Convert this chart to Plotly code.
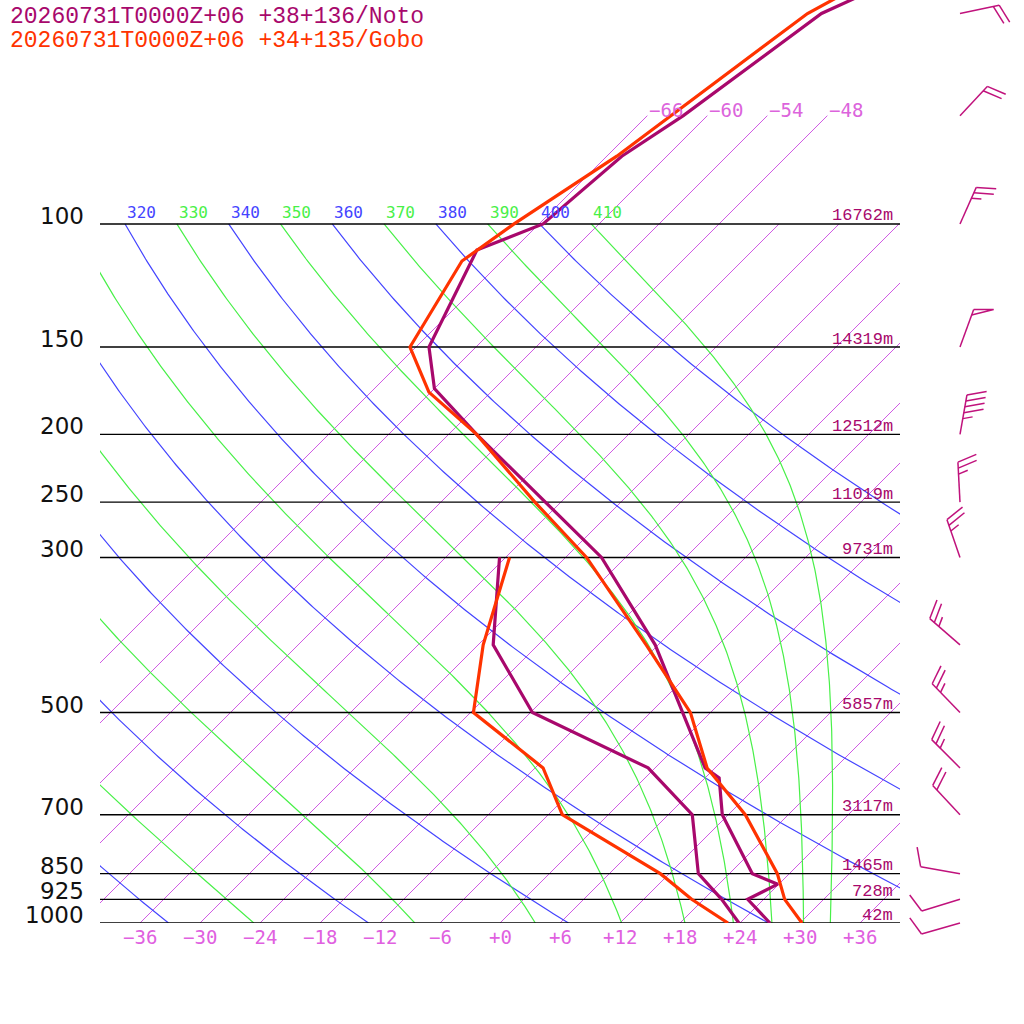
import numpy as np
import plotly.graph_objects as go

# --- sounding data (hPa, deg C) ---
noto_p = [1000, 925, 880, 850, 700, 620, 600, 500, 400, 300, 250, 200, 172, 150, 109, 100, 80, 70, 50, 45]
noto_t = [27.0, 22.4, 23.9, 20.3, 11.4, 7.4, 5.0, -2.8, -12.3, -26.4, -37.6, -51.2, -60.0, -64.7,
          -69.6, -65.6, -64.5, -62.4, -58.8, -55.0]
noto_td_p = [1000, 925, 850, 700, 600, 500, 400, 300]
noto_td = [23.9, 19.8, 14.9, 8.4, -0.7, -17.8, -28.5, -36.6]

gobo_p = [1000, 925, 850, 700, 600, 500, 400, 300, 250, 200, 174, 150, 113, 100, 80, 70, 50, 45]
gobo_t = [30.2, 26.1, 22.8, 13.7, 5.2, -2.0, -13.2, -27.9, -38.6, -51.2, -60.2, -66.6,
          -70.0, -68.5, -65.0, -63.6, -60.2, -57.5]
gobo_td_p = [1000, 925, 850, 700, 600, 500, 400, 300]
gobo_td = [22.8, 16.8, 11.1, -4.6, -11.2, -23.7, -29.5, -35.6]

# winds (Noto)
wind_p = [1000, 925, 850, 700, 600, 500, 400, 300, 250, 200, 150, 100, 70, 50]
wind_dir = [254, 253, 280, 317, 315, 316, 311, 341, 357, 10, 20, 24, 43, 78]
wind_kt = [10, 10, 10, 20, 25, 25, 25, 25, 25, 45, 50, 25, 20, 20]

# standard levels and heights
levels = [100, 150, 200, 250, 300, 500, 700, 850, 925, 1000]
heights = [16762, 14319, 12512, 11019, 9731, 5857, 3117, 1465, 728, 42]

# background lines
isotherms = list(range(-66, 49, 6))
dry_thetas = list(range(240, 401, 20))
moist_thetas = list(range(250, 411, 20))
temp_ticks = list(range(-36, 37, 6))

titles = ["20260731T0000Z+06 +38+136/Noto", "20260731T0000Z+06 +34+135/Gobo"]

NOTO = "#a8086c"
GOBO = "#ff3300"
ISO = "#d05ae4"
DRY = "#4444ff"
MOIST = "#48f048"

K = 303.6          # pixels per e-fold of pressure
SKEW = K / 10.0    # skewed-x units per e-fold
P_TOP = 1000 * np.exp(-923 / K)
P_BOT = 1000 * np.exp(101 / K)
KAPPA = 0.2857


def skew_x(t, p):
    return np.asarray(t, float) + SKEW * np.log(1000.0 / np.asarray(p, float))


def pseudo_adiabat(theta, lnp):
    rd, cp, lv, eps = 287.04, 1005.7, 2.501e6, 0.622

    def f(T, lp):
        p = np.exp(lp)
        es = 6.112 * np.exp(17.67 * (T - 273.15) / (T - 29.65))
        rs = eps * es / (p - es)
        return (rd * T + lv * rs) / (cp + lv ** 2 * rs * eps / (rd * T ** 2))

    T = theta * (np.exp(lnp[0]) / 1000.0) ** KAPPA
    out = [T]
    for i in range(len(lnp) - 1):
        h = lnp[i + 1] - lnp[i]
        k1 = f(T, lnp[i])
        k2 = f(T + h * k1 / 2, lnp[i] + h / 2)
        k3 = f(T + h * k2 / 2, lnp[i] + h / 2)
        k4 = f(T + h * k3, lnp[i] + h)
        T = T + h * (k1 + 2 * k2 + 2 * k3 + k4) / 6
        out.append(T)
    return np.array(out) - 273.15


fig = go.Figure()

# isotherms
for t in isotherms:
    ptop = 70 if t <= -48 else 100
    pp = [1000, ptop]
    fig.add_trace(go.Scatter(x=skew_x([t, t], pp), y=pp, mode="lines",
                             line=dict(color=ISO, width=1), hoverinfo="skip"))

lnp = np.linspace(np.log(100), np.log(1000), 300)
pgrid = np.exp(lnp)

# dry adiabats
for th in dry_thetas:
    tt = th * (pgrid / 1000.0) ** KAPPA - 273.15
    fig.add_trace(go.Scatter(x=skew_x(tt, pgrid), y=pgrid, mode="lines",
                             line=dict(color=DRY, width=1.2), hoverinfo="skip"))

# moist adiabats
for th in moist_thetas:
    tt = pseudo_adiabat(th, lnp)
    fig.add_trace(go.Scatter(x=skew_x(tt, pgrid), y=pgrid, mode="lines",
                             line=dict(color=MOIST, width=1.2), hoverinfo="skip"))

# pressure levels
for p in levels:
    fig.add_trace(go.Scatter(x=[-40, 40], y=[p, p], mode="lines",
                             line=dict(color="black", width=1.4), hoverinfo="skip"))

# profiles
for pp, tt, col in [(noto_td_p, noto_td, NOTO), (gobo_td_p, gobo_td, GOBO),
                    (noto_p, noto_t, NOTO), (gobo_p, gobo_t, GOBO)]:
    fig.add_trace(go.Scatter(x=skew_x(tt, pp), y=pp, mode="lines",
                             line=dict(color=col, width=3.2), hoverinfo="skip"))

# wind barbs on the full-page axes
BASE_X = 46.0


def barb(p0, direction, speed):
    a = np.radians(direction)
    s = np.array([np.sin(a), np.cos(a)])
    r = np.radians(70)
    b = np.array([s[0] * np.cos(r) + s[1] * np.sin(r), -s[0] * np.sin(r) + s[1] * np.cos(r)])
    tip = 40 * s
    segs = [[np.zeros(2), tip]]
    pos = 0.0
    n50, rem = divmod(speed, 50)
    n10, rem = divmod(rem, 10)
    for _ in range(n50):
        a0 = tip - pos * s
        segs.append([a0, a0 + 20 * b, tip - (pos + 6) * s])
        pos += 9
    for _ in range(n10):
        a0 = tip - pos * s
        segs.append([a0, a0 + 20 * b])
        pos += 6
    if rem >= 5:
        a0 = tip - pos * s
        segs.append([a0, a0 + 10 * b])
    xs, ys = [], []
    for seg in segs:
        for v in seg:
            xs.append(BASE_X + v[0] / 10.0)
            ys.append(p0 * np.exp(-v[1] / K))
        xs.append(None)
        ys.append(None)
    return xs, ys


bx, by = [], []
for p, d, v in zip(wind_p, wind_dir, wind_kt):
    xs, ys = barb(p, d, v)
    bx += xs
    by += ys
fig.add_trace(go.Scatter(x=bx, y=by, mode="lines", xaxis="x2", yaxis="y2",
                         line=dict(color="#c0127c", width=1.5), hoverinfo="skip"))

ann = []
mono = "DejaVu Sans Mono"
# pressure labels
for p in levels:
    ann.append(dict(x=-41.4, y=np.log10(p), xref="x2", yref="y2", text=str(p), showarrow=False,
                    xanchor="right", yanchor="middle", yshift=8,
                    font=dict(family="DejaVu Sans", size=23, color="#111111")))
# height labels
for p, h in zip(levels, heights):
    ann.append(dict(x=39.5, y=np.log10(p), xref="x", yref="y", text=f"{h}m", showarrow=False,
                    xanchor="right", yanchor="middle", yshift=8,
                    font=dict(family="Liberation Mono", size=17, color="#a8086c")))
# theta labels at 100 hPa
for th, col in [(t, DRY) for t in dry_thetas] + [(t, MOIST) for t in moist_thetas]:
    xx = float(skew_x(th * 0.1 ** KAPPA - 273.15, 100))
    if -41 < xx < 38:
        ann.append(dict(x=xx, y=2.0, xref="x2", yref="y2", text=str(th), showarrow=False,
                        xanchor="left", yanchor="middle", yshift=11,
                        font=dict(family=mono, size=16, color=col)))
# isotherm labels at 70 hPa
for t in isotherms:
    if t <= -48:
        xx = float(skew_x(t, 70))
        if xx < 40:
            ann.append(dict(x=xx, y=np.log10(70), xref="x2", yref="y2",
                            text=f"\u2212{abs(t)}", showarrow=False,
                            xanchor="left", yanchor="middle", yshift=6, xshift=0,
                            font=dict(family=mono, size=19, color="#dc64dc")))
# bottom temperature labels
for t in temp_ticks:
    lab = f"+{t}" if t >= 0 else f"\u2212{abs(t)}"
    ann.append(dict(x=t, y=3.0, xref="x2", yref="y2", text=lab, showarrow=False,
                    xanchor="center", yanchor="middle", yshift=-14,
                    font=dict(family=mono, size=19, color="#e060e0")))
# titles
for i, (txt, col) in enumerate(zip(titles, [NOTO, GOBO])):
    ann.append(dict(x=8 / 1024, y=1 - (17 + 24 * i) / 1024, xref="paper", yref="paper",
                    text=txt, showarrow=False, xanchor="left", yanchor="middle",
                    font=dict(family="Liberation Mono", size=23, color=col)))

fig.update_layout(
    width=1024, height=1024, autosize=False,
    margin=dict(l=0, r=0, t=0, b=0),
    paper_bgcolor="white", plot_bgcolor="rgba(0,0,0,0)",
    showlegend=False,
    xaxis=dict(domain=[100 / 1024, 900 / 1024], range=[-40, 40], visible=False),
    yaxis=dict(type="log", domain=[101 / 1024, 1], range=[3, np.log10(P_TOP)], visible=False),
    xaxis2=dict(domain=[0, 1], range=[-50, 52.4], anchor="y2", visible=False),
    yaxis2=dict(type="log", domain=[0, 1], range=[np.log10(P_BOT), np.log10(P_TOP)],
                anchor="x2", visible=False),
    annotations=ann,
)

fig.write_html("out.html", config={"displayModeBar": False},
               post_script="document.body.style.margin='0';")
